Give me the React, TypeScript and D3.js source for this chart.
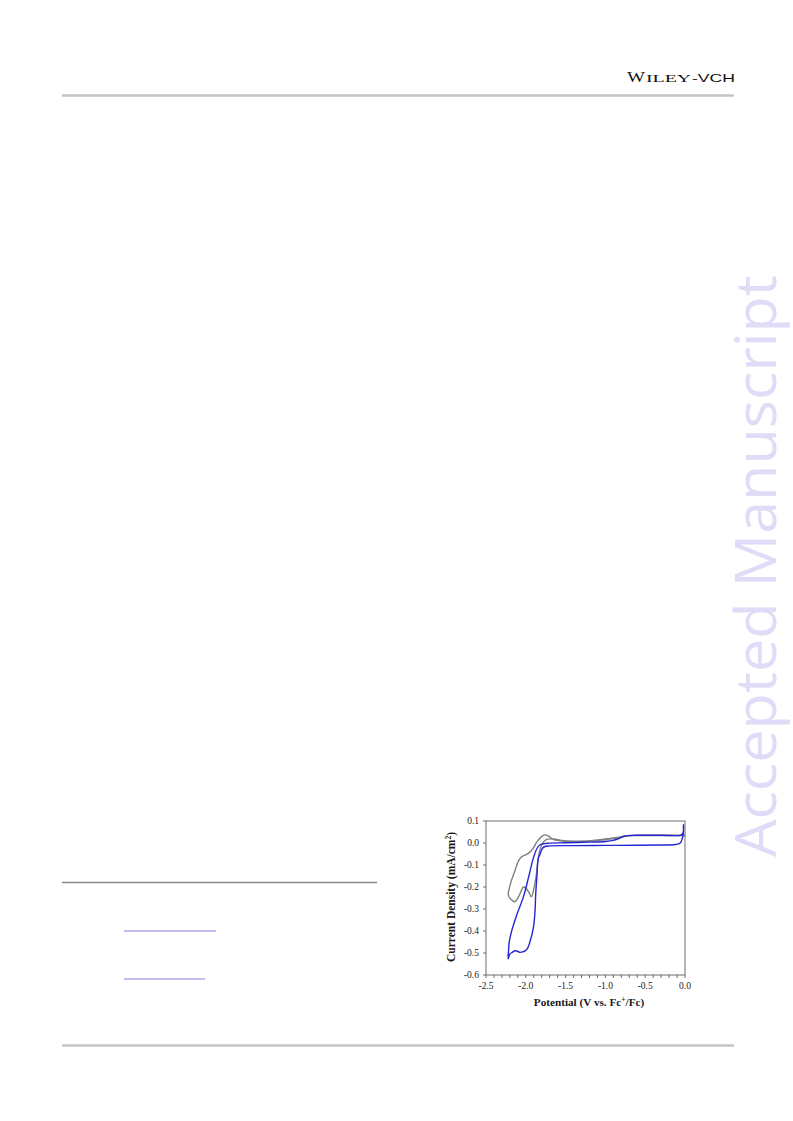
import React from "react";
import * as d3 from "d3";

// Gray scan (potential V vs Fc+/Fc, current density mA/cm2)
const grayV = [0.0, -0.3, -0.6, -0.75, -0.85, -1.0, -1.2, -1.4, -1.55, -1.65, -1.74, -1.8, -1.84, -1.87, -1.9, -1.93, -1.96, -2.0, -2.03, -2.06, -2.1, -2.14, -2.19, -2.22, -2.21, -2.18, -2.14, -2.09, -2.05, -2.01, -1.96, -1.92, -1.86, -1.8, -1.76, -1.72, -1.65, -1.55, -1.4, -1.2, -1.0, -0.85, -0.75, -0.6, -0.3, 0.0];
const grayJ = [0.034, 0.034, 0.034, 0.031, 0.022, 0.015, 0.009, 0.008, 0.012, 0.018, 0.016, -0.009, -0.062, -0.15, -0.21, -0.244, -0.225, -0.205, -0.2, -0.22, -0.25, -0.267, -0.255, -0.236, -0.21, -0.17, -0.13, -0.08, -0.062, -0.055, -0.045, -0.03, 0.005, 0.03, 0.037, 0.032, 0.015, 0.009, 0.008, 0.01, 0.018, 0.025, 0.032, 0.035, 0.035, 0.035];

// Blue scan
const blueV = [-0.02, -0.02, -0.03, -0.06, -0.12, -0.3, -0.6, -1.0, -1.4, -1.7, -1.76, -1.79, -1.82, -1.843, -1.86, -1.876, -1.884, -1.906, -1.947, -1.98, -2.01, -2.04, -2.073, -2.1, -2.136, -2.17, -2.2, -2.222, -2.215, -2.21, -2.18, -2.114, -2.03, -1.968, -1.906, -1.86, -1.82, -1.75, -1.5, -1.2, -1.0, -0.9, -0.82, -0.75, -0.6, -0.3, -0.05, -0.025, -0.02];
const blueJ = [0.085, 0.05, 0.025, 0.0, -0.007, -0.009, -0.01, -0.011, -0.012, -0.013, -0.016, -0.024, -0.05, -0.07, -0.15, -0.236, -0.31, -0.388, -0.448, -0.48, -0.49, -0.495, -0.497, -0.493, -0.49, -0.497, -0.505, -0.527, -0.48, -0.455, -0.403, -0.327, -0.245, -0.16, -0.07, -0.025, -0.008, -0.002, 0.001, 0.004, 0.007, 0.012, 0.022, 0.032, 0.035, 0.035, 0.036, 0.045, 0.085];

const yTicks = [0.1, 0.0, -0.1, -0.2, -0.3, -0.4, -0.5, -0.6];
const xTicks = [-2.5, -2.0, -1.5, -1.0, -0.5, 0.0];
const xMinorTicks = d3.range(-25, 1).map((i) => i / 10);

export default function App() {
  const x = d3.scaleLinear().domain([-2.5, 0]).range([486, 685]);
  const y = d3.scaleLinear().domain([-0.6, 0.1]).range([975, 821]);
  const line = d3
    .line<[number, number]>()
    .x((d) => x(d[0]))
    .y((d) => y(d[1]))
    .curve(d3.curveCatmullRom.alpha(0.5));
  const grayPts = grayV.map((v, i) => [v, grayJ[i]] as [number, number]);
  const bluePts = blueV.map((v, i) => [v, blueJ[i]] as [number, number]);
  const serif = "'Liberation Serif', 'Times New Roman', serif";
  const sans = "'Liberation Sans', Arial, sans-serif";
  const axisCol = "#6e6e6e";
  const [x0, x1] = x.range();
  const [y0, y1] = y.range();

  return (
    <svg
      width={793}
      height={1121}
      style={{ position: "absolute", left: 0, top: 0 }}
      xmlns="http://www.w3.org/2000/svg"
    >
      <rect x={0} y={0} width={793} height={1121} fill="#ffffff" />
      {/* Header */}
      <text x={627} y={82} fill="#111" fontFamily={serif} fontSize={15} textLength={18} lengthAdjust="spacingAndGlyphs">W</text>
      <text x={646} y={82} fill="#111" fontFamily={serif} fontSize={11} textLength={45} lengthAdjust="spacingAndGlyphs">ILEY</text>
      <text x={692} y={82} fill="#111" fontFamily={sans} fontSize={10.5} textLength={43} lengthAdjust="spacingAndGlyphs">-VCH</text>
      <line x1={62} x2={734} y1={95.5} y2={95.5} stroke="#c4c4c4" strokeWidth={2.5} />
      <line x1={62} x2={734} y1={1045.5} y2={1045.5} stroke="#c4c4c4" strokeWidth={2.5} />

      {/* Watermark */}
      <text
        transform="translate(776,857) rotate(-90)"
        fontFamily="'Open Sans', 'Noto Sans', sans-serif"
        fontSize={57}
        fontWeight={400}
        fill="#dedcf6"
        textLength={582}
        lengthAdjust="spacingAndGlyphs"
      >
        Accepted Manuscript
      </text>

      {/* Left footnote rules */}
      <line x1={62} x2={377} y1={882.5} y2={882.5} stroke="#8a8a8a" strokeWidth={1.3} />
      <line x1={124} x2={216} y1={931} y2={931} stroke="#8480ee" strokeWidth={1.2} />
      <line x1={124} x2={205} y1={979} y2={979} stroke="#8480ee" strokeWidth={1.2} />

      {/* Chart frame */}
      <rect x={x0} y={y1} width={x1 - x0} height={y0 - y1} fill="none" stroke={axisCol} strokeWidth={1} />

      {/* Y ticks */}
      {yTicks.map((t) => (
        <g key={"y" + t}>
          <line x1={x0 - 3} x2={x0} y1={y(t)} y2={y(t)} stroke={axisCol} strokeWidth={1} />
          <text x={x0 - 7} y={y(t) + 3.2} textAnchor="end" fontFamily={serif} fontSize={9.5} fill="#222">
            {t.toFixed(1)}
          </text>
        </g>
      ))}
      {/* X ticks */}
      {xMinorTicks.map((t) => (
        <line key={"xm" + t} x1={x(t)} x2={x(t)} y1={y0} y2={y0 + 3} stroke={axisCol} strokeWidth={1} />
      ))}
      {xTicks.map((t) => (
        <text key={"x" + t} x={x(t)} y={y0 + 14} textAnchor="middle" fontFamily={serif} fontSize={9.5} fill="#222">
          {t.toFixed(1)}
        </text>
      ))}

      {/* Axis titles */}
      <text
        transform={`translate(455,${(y0 + y1) / 2 - 1}) rotate(-90)`}
        textAnchor="middle"
        fontFamily={serif}
        fontWeight="bold"
        fontSize={11.5}
        fill="#1a1a1a"
      >
        Current Density (mA/cm<tspan baselineShift="super" fontSize={7.5}>2</tspan>)
      </text>
      <text x={589} y={1006} textAnchor="middle" fontFamily={serif} fontWeight="bold" fontSize={11.2} fill="#1a1a1a">
        Potential (V vs. Fc<tspan baselineShift="super" fontSize={7.5}>+</tspan>/Fc)
      </text>

      {/* Curves */}
      <path d={line(grayPts) || ""} fill="none" stroke="#7f7f7f" strokeWidth={1.4} />
      <path d={line(bluePts) || ""} fill="none" stroke="#2424d8" strokeWidth={1.4} />
    </svg>
  );
}
